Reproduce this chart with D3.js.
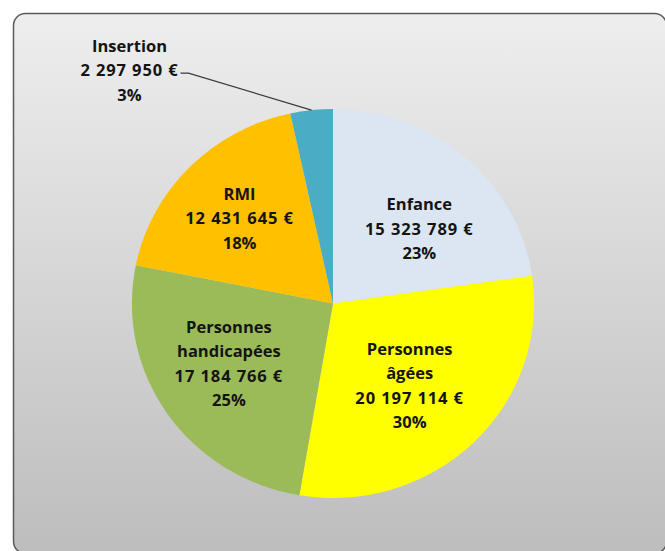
<!DOCTYPE html>
<html>
<head>
<meta charset="utf-8">
<script src="https://cdn.jsdelivr.net/npm/d3@7/dist/d3.min.js"></script>
<style>
  html, body { margin: 0; padding: 0; background: #ffffff; }
  svg { display: block; }
  text { font-family: "Open Sans", "DejaVu Sans", sans-serif; font-weight: 700; fill: #141414; }
</style>
</head>
<body>
<svg id="chart" width="665" height="551"></svg>
<script>
// Budget lines of the social action spending, clockwise from 12 o'clock
const categories = ["Enfance", "Personnes âgées", "Personnes handicapées", "RMI", "Insertion"];
const amounts = [15323789, 20197114, 17184766, 12431645, 2297950];
const colors = ["#DCE6F2", "#FFFF00", "#9BBB59", "#FFC000", "#4BACC6"];
// How each category name is broken over lines in its label
const nameLines = [["Enfance"], ["Personnes", "âgées"], ["Personnes", "handicapées"], ["RMI"], ["Insertion"]];

const width = 665, height = 551;
const cx = 333, cy = 303.5;
const radius = 194.5;
const stretchX = 1.034;       // the pie is drawn slightly wider than tall
const lineH = 24.5;
const fontSize = 16.5;

// small per-label adjustments around the arc centroid
const labelShift = {
  "Enfance": [6, 15],
  "Personnes âgées": [-9, -3],
  "Personnes handicapées": [-3, -7],
  "RMI": [-6, -2]
};

const svg = d3.select("#chart");

// chart area background: vertical grey gradient with rounded frame
const defs = svg.append("defs");
const grad = defs.append("linearGradient")
  .attr("id", "bg").attr("x1", 0).attr("y1", 0).attr("x2", 0).attr("y2", 1);
grad.append("stop").attr("offset", "0%").attr("stop-color", "#eeeeee");
grad.append("stop").attr("offset", "100%").attr("stop-color", "#bdbdbd");

svg.append("rect")
  .attr("x", 13.5).attr("y", 13.5)
  .attr("width", 653).attr("height", 540)
  .attr("rx", 12).attr("ry", 12)
  .attr("fill", "url(#bg)")
  .attr("stroke", "#5a5a5a")
  .attr("stroke-width", 1.5);

const total = d3.sum(amounts);
const data = categories.map((c, i) => ({ name: c, value: amounts[i], color: colors[i], lines: nameLines[i] }));

const pie = d3.pie().sort(null).value(d => d.value);
const arcs = pie(data);

const arc = d3.arc().innerRadius(0).outerRadius(radius);
const labelArc = d3.arc().innerRadius(radius * 0.61).outerRadius(radius * 0.61);
const edgeArc = d3.arc().innerRadius(radius).outerRadius(radius);

const pieG = svg.append("g")
  .attr("transform", `translate(${cx},${cy}) scale(${stretchX},1)`);

pieG.selectAll("path.slice")
  .data(arcs)
  .join("path")
  .attr("class", "slice")
  .attr("d", arc)
  .attr("fill", d => d.data.color);

const fmtMoney = v => d3.format(",")(v).replace(/,/g, " ") + " €";
const fmtPct = v => Math.round(v / total * 100) + "%";

const labelG = svg.append("g");

arcs.forEach(a => {
  const d = a.data;
  const lines = [...d.lines, fmtMoney(d.value), fmtPct(d.value)];
  const moneyIndex = d.lines.length;
  let x, y;
  const isSmall = (a.endAngle - a.startAngle) < 0.3;
  if (!isSmall) {
    const [px, py] = labelArc.centroid(a);
    const s = labelShift[d.name] || [0, 0];
    x = cx + px * stretchX + s[0];
    y = cy + py + s[1];
  } else {
    // thin slice: label outside, joined by a leader line
    const [ex, ey] = edgeArc.centroid(a);
    const edgeX = cx + ex * stretchX, edgeY = cy + ey;
    x = edgeX - 182;
    y = edgeY - 40;
    const valueLineY = y - ((lines.length - 1) / 2) * lineH + lineH + 3;
    const textEnd = x + 48;
    labelG.append("path")
      .attr("d", `M${edgeX},${edgeY} L${textEnd + 11},${valueLineY} L${textEnd + 3},${valueLineY}`)
      .attr("fill", "none")
      .attr("stroke", "#3a3a3a")
      .attr("stroke-width", 1.1);
  }
  const t = labelG.append("text")
    .attr("text-anchor", "middle")
    .attr("font-size", fontSize);
  const top = y - ((lines.length - 1) / 2) * lineH;
  lines.forEach((ln, i) => {
    t.append("tspan")
      .attr("x", x)
      .attr("y", top + i * lineH + 6)
      .attr("letter-spacing", i === moneyIndex ? 0.9 : null)
      .text(ln);
  });
});
</script>
</body>
</html>
